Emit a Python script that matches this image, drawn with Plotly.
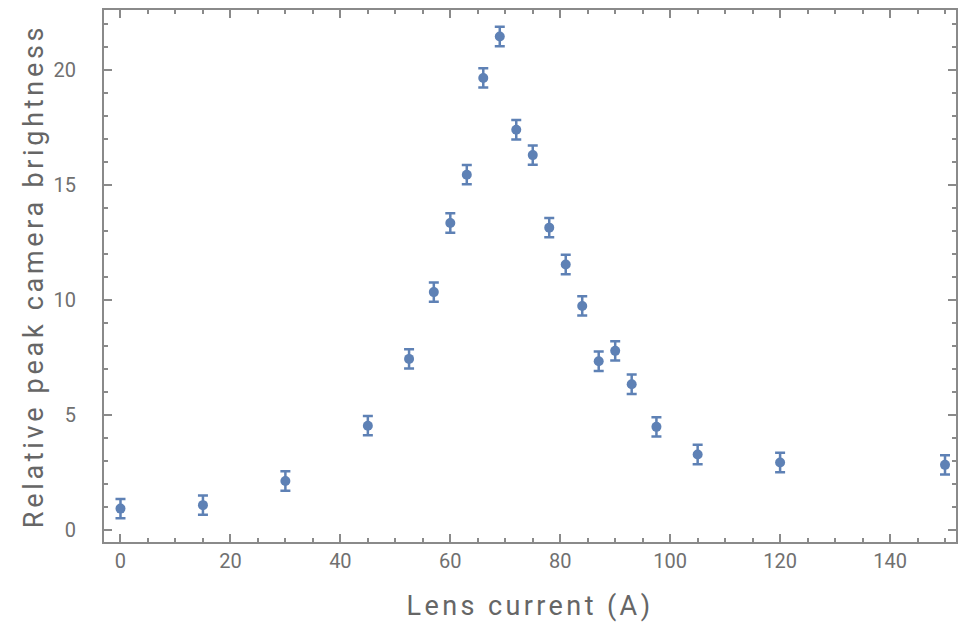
import plotly.graph_objects as go

# Lens current (A) and relative peak camera brightness
lens_current = [0, 15, 30, 45, 52.5, 57, 60, 63, 66, 69, 72, 75, 78, 81, 84, 87, 90, 93, 97.5, 105, 120, 150]
brightness = [0.95, 1.1, 2.15, 4.55, 7.45, 10.35, 13.35, 15.45, 19.65, 21.45, 17.4, 16.3,
              13.15, 11.55, 9.75, 7.35, 7.8, 6.35, 4.5, 3.3, 2.95, 2.85]
brightness_err = [0.42] * len(lens_current)

x_ticks = [0, 20, 40, 60, 80, 100, 120, 140]
y_ticks = [0, 5, 10, 15, 20]

x_title = "Lens current (A)"
y_title = "Relative peak camera brightness"

blue = "rgb(94,129,181)"
frame = "#8a8a8a"
label = "#707070"


def spaced(text, px):
    return f'<span style="letter-spacing:{px}px">{text}</span>'


fig = go.Figure(
    go.Scatter(
        x=lens_current,
        y=brightness,
        mode="markers",
        marker=dict(color=blue, size=10),
        error_y=dict(type="data", array=brightness_err, color=blue, thickness=2.5, width=5),
        showlegend=False,
    )
)

axis_common = dict(
    showgrid=False,
    zeroline=False,
    showline=True,
    linecolor=frame,
    linewidth=2,
    mirror="allticks",
    ticks="inside",
    tickcolor=frame,
    tickwidth=2,
    tickfont=dict(family="Roboto", size=20, color=label),
    title_font=dict(family="Roboto", size=27, color="#666666"),
)

fig.update_xaxes(
    **axis_common,
    range=[-3, 152],
    tickvals=x_ticks,
    ticklen=8,
    minor=dict(ticks="inside", dtick=5, tick0=0, ticklen=4, tickwidth=2, tickcolor=frame),
    title_text=spaced(x_title, 3.4),
    title_standoff=24,
)
fig.update_yaxes(
    **axis_common,
    range=[-0.5, 22.6],
    tickvals=y_ticks,
    ticklen=8,
    ticklabelstandoff=22,
    minor=dict(ticks="inside", dtick=1, tick0=0, ticklen=4, tickwidth=2, tickcolor=frame),
    title_text=spaced(y_title, 3.7),
    title_standoff=2,
)

fig.update_layout(
    width=960,
    height=631,
    margin=dict(l=104, r=2, t=10, b=89),
    plot_bgcolor="white",
    paper_bgcolor="white",
)

fig.write_html("out.html")
